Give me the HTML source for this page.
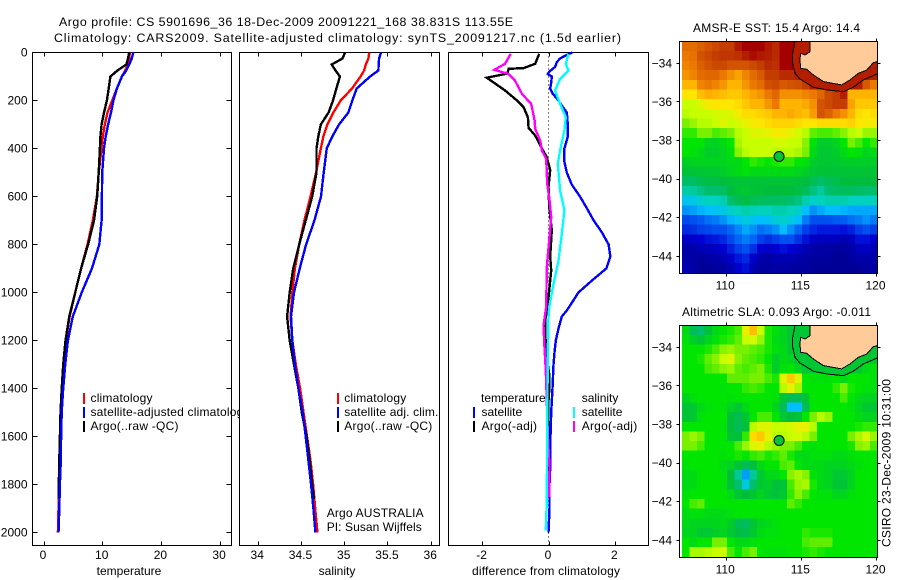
<!DOCTYPE html>
<html>
<head>
<meta charset="utf-8">
<title>Argo profile</title>
<style>
html,body{margin:0;padding:0;background:#fff;width:900px;height:580px;overflow:hidden}
svg{display:block}
text{font-family:"Liberation Sans",sans-serif;font-size:12px;fill:#000}
</style>
</head>
<body>
<svg id="chart" xmlns="http://www.w3.org/2000/svg" width="900" height="580" viewBox="0 0 900 580">
  <rect x="0" y="0" width="900" height="580" fill="#fff"/>
  <text x="59" y="26" textLength="454" lengthAdjust="spacing" style="font-size:12.4px">Argo profile: CS 5901696_36 18-Dec-2009 20091221_168 38.831S 113.55E</text>
  <text x="54" y="42" textLength="567" lengthAdjust="spacing" style="font-size:12.4px">Climatology: CARS2009. Satellite-adjusted climatology: synTS_20091217.nc (1.5d earlier)</text>

  <g id="p1"></g>
  <g id="p1legend">
    <rect x="83" y="393" width="2" height="11" fill="#f00"/>
    <rect x="83" y="407" width="2" height="11" fill="#00f"/>
    <rect x="83" y="421" width="2" height="11" fill="#000"/>
    <text x="90.5" y="402" textLength="62" lengthAdjust="spacing">climatology</text>
    <text x="90.5" y="416" textLength="159" lengthAdjust="spacing">satellite-adjusted climatology</text>
    <text x="90.5" y="430" textLength="88" lengthAdjust="spacing">Argo(..raw -QC)</text>
  </g>

  <g id="p2"></g>
  <g id="p2legend">
    <rect x="337" y="393" width="2" height="11" fill="#f00"/>
    <rect x="337" y="407" width="2" height="11" fill="#00f"/>
    <rect x="337" y="421" width="2" height="11" fill="#000"/>
    <text x="344.3" y="402" textLength="62" lengthAdjust="spacing">climatology</text>
    <text x="344.3" y="416" textLength="94" lengthAdjust="spacing">satellite adj. clim.</text>
    <text x="344.3" y="430" textLength="88" lengthAdjust="spacing">Argo(..raw -QC)</text>
    <text x="326.7" y="517" textLength="97" lengthAdjust="spacing">Argo AUSTRALIA</text>
    <text x="326.7" y="531" textLength="95" lengthAdjust="spacing">PI: Susan Wijffels</text>
  </g>

  <g id="p3"></g>
  <g id="p3legend">
    <text x="481" y="402">temperature</text>
    <rect x="473" y="407" width="2" height="11" fill="#00f"/>
    <rect x="473" y="421" width="2" height="11" fill="#000"/>
    <text x="481.5" y="416">satellite</text>
    <text x="481.5" y="430" textLength="55.5" lengthAdjust="spacing">Argo(-adj)</text>
    <text x="581.7" y="402">salinity</text>
    <rect x="573" y="407" width="2" height="11" fill="#0ff"/>
    <rect x="573" y="421" width="2" height="11" fill="#f0f"/>
    <text x="581.7" y="416">satellite</text>
    <text x="581.7" y="430" textLength="55.5" lengthAdjust="spacing">Argo(-adj)</text>
  </g>

  <text x="693" y="32" textLength="167" lengthAdjust="spacing">AMSR-E SST: 15.4  Argo: 14.4</text>
  <g id="m1"></g>
  <text x="682" y="316" textLength="189" lengthAdjust="spacing">Altimetric SLA: 0.093 Argo: -0.011</text>
  <g id="m2"></g>
  <text transform="translate(890.5,547) rotate(-90)" textLength="168" lengthAdjust="spacing">CSIRO 23-Dec-2009 10:31:00</text>
</svg>
<script>
// ---- profile data (depth in dbar) ----
const depthTicks = [0,200,400,600,800,1000,1200,1400,1600,1800,2000];
const profileDepths = [0,25,50,75,100,150,200,250,300,350,400,500,600,700,800,900,1000,1100,1200,1300,1400,1500,1600,1700,1800,1900,2000];
const argoDepths = [0,25,50,75,100,150,200,250,300,350,400,500,600,700,800,900,1000,1100,1200,1300,1400,1500,1600,1700,1800,1860];

const tempTicks = [0,10,20,30];
const tempClimatology = [14.7,14.6,14.4,13.9,13.35,12.5,11.7,10.9,10.45,10.1,9.9,9.4,9.1,8.4,7.5,6.4,5.4,4.45,3.8,3.4,3.15,2.95,2.85,2.75,2.65,2.55,2.45];
const tempSatellite = [15.3,15.05,14.6,14.1,13.35,12.5,11.9,11.5,11,10.6,10.3,10,9.95,9.9,9.5,8.25,6.5,5,4.15,3.7,3.35,3.1,3,2.95,2.8,2.7,2.55];
const tempArgo = [14.6,14.4,14.1,12.6,11.4,11.1,10.8,10.3,9.9,9.7,9.6,9.4,9.15,8.6,7.6,6.4,5.4,4.4,3.75,3.35,3.1,2.9,2.8,2.7,2.6,2.55];

const salTicks = [34,34.5,35,35.5,36];
const salClimatology = [35.29,35.28,35.25,35.23,35.19,35.09,34.96,34.875,34.805,34.76,34.73,34.675,34.61,34.54,34.48,34.43,34.40,34.38,34.40,34.44,34.49,34.53,34.57,34.61,34.64,34.665,34.69];
const salSatellite = [35.426,35.403,35.399,35.395,35.299,35.145,35.094,35.048,34.94,34.863,34.798,34.763,34.732,34.655,34.559,34.486,34.42,34.385,34.40,34.43,34.47,34.52,34.555,34.586,34.617,34.644,34.667];
const salArgo = [35.01,34.98,34.855,34.90,34.95,34.91,34.87,34.82,34.73,34.70,34.68,34.68,34.63,34.555,34.48,34.41,34.37,34.34,34.37,34.42,34.47,34.51,34.565,34.60,34.63,34.65];

const diffTicks = [-2,0,2];
const diffTempSatDepths = [0,10,25,40,60,80,90,100,125,150,170,200,225,250,300,350,400,450,500,550,600,650,700,750,800,850,900,950,1000,1033,1075,1100,1150,1200,1250,1300,1400,1500,1600,1700,1800,1900,2000];
const diffTempSat = [0.72,0.55,0.35,0.25,0.2,0.02,-0.02,0.1,0.08,0.05,0.12,0.3,0.42,0.55,0.58,0.58,0.48,0.47,0.55,0.70,0.95,1.16,1.36,1.61,1.81,1.86,1.74,1.31,0.90,0.75,0.55,0.40,0.3,0.22,0.18,0.15,0.12,0.08,0.06,0.06,0.03,0.03,0];
const diffTempArgoDepths = [6,47,65,68,88,105,158,200,228,270,314,346,400,436,490,560,644,740,850,908,1020,1075,1117,1172,1270,1340,1408,1450,1850];
const diffTempArgo = [-0.28,-0.40,-0.75,-1.2,-1.24,-1.86,-1.31,-0.95,-0.75,-0.62,-0.60,-0.40,-0.20,-0.05,0.05,0,0.02,0.10,0.05,0.08,0,-0.05,-0.10,-0.10,-0.05,0.02,0.02,0,0];
const diffSalSatDepths = [6,47,75,110,158,214,269,325,408,464,575,658,756,867,964,1061,1103,1242,1589,1867,1992];
const diffSalSat = [0.60,0.52,0.60,0.35,0.20,0.35,0.52,0.48,0.35,0.28,0.35,0.48,0.40,0.30,0.15,0.02,0,-0.02,-0.04,-0.05,-0.08];
const diffSalArgoDepths = [6,47,72,89,117,172,214,283,318,367,408,443,547,603,686,783,894,1061,1138,1228,1325,1450,1589,1728,1853];
const diffSalArgo = [-1.14,-1.31,-1.63,-1.21,-1.01,-0.80,-0.52,-0.42,-0.40,-0.25,-0.20,-0.07,-0.04,0.02,0.08,0.02,-0.05,-0.07,-0.15,-0.12,-0.08,-0.05,-0.02,0.03,0.02];

// ---- map data ----
const lonTicks = [110,115,120];
const latTicks = [-34,-36,-38,-40,-42,-44];
const floatLon = 113.55;
const floatLat = -38.83;
const argoSst = 14.4;
const argoSla = -0.011;
const shelfSst = 19.5;
const shelfSla = -0.01;
const coastLon = [115.61,115.61,115.28,114.99,114.94,114.99,115.39,115.83,116.50,117.38,117.72,118.27,118.82,119.38,119.82,120.09];
const coastLat = [-32.86,-33.40,-33.57,-33.48,-33.83,-34.26,-34.31,-34.60,-34.95,-35.07,-35.12,-34.86,-34.52,-34.35,-33.97,-33.91];
const shelfLon = [114.61,114.46,114.46,114.61,114.94,115.83,116.72,117.83,118.49,119.16,120.09];
const shelfLat = [-32.86,-33.48,-34,-34.52,-34.81,-35.24,-35.38,-35.47,-35.24,-34.86,-34.55];

const sstGrid = [
[18.2,18.2,18.4,18.6,18.8,19,19,19.6,20,20,20,19.6,19.3,20,20,19.5,19.5,19,19,19,19,19,19,19,19,19],
[18,18.1,18.6,18.8,19,19.1,19.1,19.2,19.5,19.8,19.6,19.5,19.3,20,20,19.5,19.5,19,19,19,19,19,19,19,19,19],
[17.8,18,18.4,18.6,18.8,18.8,18.6,18.6,18.6,18.8,19,19.3,19.2,20,20,19.8,19.5,19,19,19,19,19,19,19,19.5,19.8],
[17.5,17.8,18.2,18.3,18.3,18,17.6,17.3,17.8,18.2,18.5,19,19,19.3,19.3,19.5,19.5,19,19,19,19,19,19,19.5,19.5,19.5],
[17,17,17.8,18,17.8,17.5,17,17,17.5,18,18.2,18.7,18.8,18.5,18.6,18.7,19,19.5,19.5,19.5,19.5,19.5,19.5,19.5,18.5,18],
[16.5,16.5,16.9,17.1,17,16.9,16.8,16.8,17,17.3,17.5,18,18.3,17.6,17.6,17.6,17.8,18,18.3,18.8,19,19.5,17,17,17,17],
[16,16,16.2,16.4,16.5,16.5,16.5,16.6,16.8,17,17,17.5,18,17,17,17,17.2,17.6,18.6,18.8,19,19,17.3,16.8,16.8,16.8],
[15.9,16,16,16,16.1,16.1,16.2,16.4,16.6,16.6,16.7,16.8,17,17,17.2,17,16.9,17.4,18.6,18.4,18,17.6,17,16.6,16.5,16.6],
[15.5,15.7,15.9,15.9,16,16.2,16,16.1,16.3,16.4,16.5,16.6,16.7,16.7,16.7,16.6,16.5,16.5,16.6,16.6,16.6,16.6,16.7,16.5,16.4,16.4],
[15.2,15.2,15.5,15.5,15.3,15.4,15.5,15.9,16,16.2,16.2,16.3,16.4,16.4,16.3,16.1,15.9,15.4,15.3,15.3,15.4,15.6,15.9,16,15.7,15.7],
[15,15,15,14.7,14.7,14.8,15,15.8,16,16,16,16,16.1,16.1,16,16,15.6,14.9,14.6,14.6,14.7,15,15.5,15.3,15,15.2],
[15,14.9,14.8,14.6,14.6,14.7,14.9,15.6,15.9,16,16,16,15.9,15.9,15.9,15.8,15.5,14.8,14.5,14.5,14.6,14.8,15,14.9,14.7,14.8],
[14.6,14.7,14.7,14.7,14.7,14.7,14.8,14.8,15,15.2,15.1,15,15.1,15.2,15.2,15,14.9,14.6,14.5,14.5,14.5,14.6,14.6,14.6,14.6,14.6],
[14.2,14.3,14.4,14.5,14.5,14.6,14.7,14.8,14.9,14.8,14.8,14.8,14.8,14.8,14.8,14.7,14.6,14.4,14.3,14.2,14.3,14.3,14.3,14.3,14.3,14.3],
[13.2,13.2,13.6,13.8,13.8,14,14.2,14.3,14.3,14.3,14.3,14.3,14.3,14.3,14.3,14.2,14,13.5,13.2,13.5,13.7,14,14,14,14,14],
[12.3,12.4,12.7,13,13,13.2,14,14.3,14.5,14.3,14.2,14,14,14,14,13.8,13.5,12.8,12.4,13,13.3,13.4,13.4,13.2,13.1,13.1],
[11.3,11.4,11.8,12,12,12.2,13,13.5,13.8,13.5,13.4,13.3,13.3,13.2,13,12.8,12.2,11.8,12,12.2,12.2,12.2,12,11.9,12,12],
[10.6,10.7,10.9,11,11.2,11.4,11.8,12,12.2,12.1,12,12,12.2,12.2,12,11.8,11,10.6,10.8,11,11,10.9,10.8,10.8,10.8,10.8],
[9.9,10,10.1,10.3,10.4,10.6,10.9,11.2,11.5,11.2,11,11.2,11.6,11.8,11.5,11,10.4,10,10,10,10.1,10.1,10.3,10.4,10.6,10.4],
[9.5,9.6,9.8,9.9,10,10,10.2,10.5,10.8,10.6,10.3,10.4,10.6,11,10.6,10.2,9.8,9.5,9.3,9.3,9.3,9.2,9.4,9.8,10,9.8],
[8.8,8.9,9,9.2,9.3,9.5,9.9,10.2,10.4,10.2,9.8,9.6,9.8,10,10,9.6,9.2,8.8,8.7,8.7,8.7,8.5,8.7,9.2,9.2,9],
[8.4,8.4,8.6,8.6,8.8,9,9.4,9.8,10,9.6,9,8.8,9,9.2,9,8.8,8.5,8.4,8.3,8.3,8.2,8.2,8.4,8.7,8.8,8.6],
[8.3,8.3,8.2,8.3,8.4,8.5,8.9,9.3,9.5,8.9,8.4,8.3,8.5,8.5,8.5,8.4,8.3,8.2,8.2,8.2,8.1,8.1,8.2,8.4,8.4,8.4],
[8.5,8.3,8.1,8.1,8.2,8.2,8.5,8.9,9.2,8.5,8.2,8.2,8.3,8.3,8.2,8.2,8.2,8.1,8.1,8.1,8.1,8.1,8.1,8.1,8.2,8.3]
];

const slaGrid = [
[.03,-.1,-.15,-.03,.03,.05,.06,.08,.18,.24,.15,.06,.04,.02,0,0,0,0,0,0,0,0,0,0,0,0],
[.04,.01,-.02,.02,.04,.06,.07,.09,.15,.16,.12,.06,.03,.02,0,0,0,0,0,0,0,0,0,0,0,0],
[.05,.05,.05,.06,.08,.11,.12,.1,.1,.09,.08,.06,.04,.03,0,0,0,0,0,0,0,0,0,0,0,0],
[.05,.05,.06,.09,.11,.15,.17,.11,.09,.08,.07,.05,.01,.03,.02,0,0,0,0,0,0,0,0,0,0,0],
[.05,.05,.05,.08,.09,.11,.12,.09,.08,.09,.1,.06,.01,.04,.05,.02,0,0,0,0,0,0,0,0,.03,.04],
[.05,.05,.05,.05,.05,.05,.09,.09,.09,.1,.1,.08,.06,.17,.23,.17,.05,.04,.04,.04,.05,.03,.05,.05,.05,.04],
[.05,.05,.05,.05,.05,.04,.05,.05,.07,.08,.07,.05,.05,.14,.18,.13,.05,.05,.05,.05,.07,.1,.06,.05,.04,.04],
[.02,.04,.05,.05,.05,.05,.04,.05,.05,.05,.05,.05,.04,-.02,-.1,-.1,-.02,.05,.05,.05,.05,.08,.05,.03,.02,.02],
[-.02,0,.03,.04,.05,.04,.02,0,.03,.05,.05,.05,.02,-.1,-.35,-.35,-.1,.05,.05,.05,.05,.05,.04,.02,0,0],
[-.02,0,.04,.05,.05,.05,-.04,-.08,-.02,.05,.08,.08,.05,0,-.05,-.03,.05,.1,.14,.12,.05,.05,.05,.03,.02,.02],
[.05,.05,.05,.05,.05,.04,-.05,-.1,-.03,.14,.17,.17,.15,.15,.16,.18,.18,.14,.05,.05,.05,.05,.05,.06,.07,.07],
[.1,.12,.1,.05,.05,.05,-.02,-.04,.07,.21,.23,.18,.14,.14,.15,.16,.14,.1,.05,.05,.05,.05,.1,.13,.16,.12],
[.1,.1,.08,.05,.05,.05,.05,.08,.12,.17,.18,.14,.12,.1,.1,.08,.05,.04,.05,.05,.05,.05,.06,.11,.12,.08],
[.05,.05,.05,.05,.05,.04,.05,.06,.05,.07,.08,.06,.07,.09,.06,.03,.03,.04,.04,.04,.03,.03,.04,.05,.05,.05],
[.04,.05,.05,.05,.05,.03,.02,-.02,-.1,-.06,.03,.05,.05,.08,.09,.05,.03,.03,.03,.02,.02,.02,.03,.04,.05,.05],
[.03,.03,.05,.05,.05,.04,-.05,-.2,-.38,-.2,0,.03,.03,.05,.11,.13,.11,.04,.03,.02,0,0,.02,.05,.05,.05],
[.03,.03,.05,.05,.05,.04,-.03,-.15,-.3,-.15,0,.01,-.03,-.02,.08,.12,.13,.06,.03,.02,-.01,-.02,.02,.05,.05,.05],
[.04,.05,.05,.05,.05,.05,.03,-.01,-.05,-.01,.02,0,-.03,0,.07,.11,.08,.05,.04,.04,.02,.02,.04,.05,.05,.05],
[.05,.08,.09,.05,.05,.05,.05,.05,.05,.05,.05,.05,.05,.05,.09,.07,.05,.05,.05,.05,.05,.05,.05,.05,.05,.05],
[.03,.04,.04,.03,.03,.03,.04,.05,.05,.05,.05,.05,.05,.05,.05,.05,.05,.05,.05,.05,.05,.05,.05,.05,.05,.05],
[.03,.02,.02,.02,.02,.03,.01,-.1,-.12,-.02,.02,.03,.04,.05,.05,.05,.05,.05,.05,.05,.05,.05,.05,.05,.05,.05],
[.02,.02,0,0,.01,.02,0,-.06,-.08,0,.03,.04,.04,.05,.05,.05,.07,.06,.06,.06,.05,.05,.05,.05,.05,.05],
[.05,.03,.05,.05,.1,.1,.05,.03,.03,.04,.05,.05,.05,.05,.05,.05,.08,.09,.09,.09,.05,.05,.05,.05,.05,.05],
[.05,.13,.13,.14,.15,.16,.08,.05,.08,.1,.05,.04,.04,.04,.05,.05,.06,.07,.06,.05,.05,.05,.05,.05,.05,.05]
];

// ---- colour scale: value (degC) -> rgb ----
const scaleValues = [8,9,10,11,12,13,14,14.5,15,15.5,16,16.5,17,18,19,20];
const scaleReds   = [0,0,0,0,0,0,0,0,0,120,200,255,255,235,195,165];
const scaleGreens = [0,0,80,190,210,190,190,200,230,240,255,230,180,120,60,0];
const scaleBlues  = [145,210,240,255,190,110,60,50,0,0,0,0,0,0,0,0];

const NS = 'http://www.w3.org/2000/svg';

function mk(parent, tag, attrs) {
  const el = document.createElementNS(NS, tag);
  for (const k in attrs) el.setAttribute(k, attrs[k]);
  parent.appendChild(el);
  return el;
}
function sstColor(v) {
  const n = scaleValues.length;
  if (v <= scaleValues[0]) return 'rgb(' + scaleReds[0] + ',' + scaleGreens[0] + ',' + scaleBlues[0] + ')';
  if (v >= scaleValues[n-1]) return 'rgb(' + scaleReds[n-1] + ',' + scaleGreens[n-1] + ',' + scaleBlues[n-1] + ')';
  let i = 0;
  while (v > scaleValues[i+1]) i++;
  const t = (v - scaleValues[i]) / (scaleValues[i+1] - scaleValues[i]);
  const c = (a) => Math.round(a[i] + (a[i+1] - a[i]) * t);
  return 'rgb(' + c(scaleReds) + ',' + c(scaleGreens) + ',' + c(scaleBlues) + ')';
}
function slaColor(v) { return sstColor(14.5 + 10 * v); }

// ---- axis functions ----
const depthY = (d) => 52.5 + 0.24 * d;
const tempX = (v) => 43.5 + 5.87 * v;
const salX = (v) => 257.7 + 86.5 * (v - 34);
const diffX = (v) => 548.5 + 33.2 * v;
const lonX = (v) => 725.7 + 15.03 * (v - 110);

function addProfile(g, xScale, values, depths, color, name) {
  const n = Math.min(values.length, depths.length);
  const pts = [];
  for (let i = 0; i < n; i++) pts.push(xScale(values[i]).toFixed(1) + ',' + depthY(depths[i]).toFixed(1));
  const line = mk(g, 'polyline', {points: pts.join(' '), fill: 'none', stroke: color, 'stroke-width': 2.4, 'shape-rendering': 'crispEdges'});
  
  
}

function addPanel(g, left, right, xScale, xTicks, xLabel, labelCenter, showDepth, labelWidth) {
  const top = 52.5, bottom = 545.5;
  const bg = mk(g, 'rect', {x: left, y: top, width: right - left, height: bottom - top, fill: '#fff', stroke: '#000', 'stroke-width': 1});
  
  
  xTicks.forEach((t) => {
    const x = Math.round(xScale(t)) + 0.5;
    const tickTop = mk(g, 'path', {d: 'M' + x + ' ' + top + 'V' + (top + 4) + 'M' + x + ' ' + bottom + 'V' + (bottom - 4), stroke: '#000', 'stroke-width': 1, fill: 'none'});
    
    
    const label = mk(g, 'text', {x: xScale(t) - 0.5, y: 559, 'text-anchor': 'middle'});
    
    
    label.textContent = String(t);
  });
  const title = mk(g, 'text', {x: labelCenter, y: 575, 'text-anchor': 'middle'});
  if (labelWidth) title.setAttribute('textLength', labelWidth);
  
  
  title.textContent = xLabel;
  if (showDepth) {
    depthTicks.forEach((d) => {
      const y = Math.round(depthY(d) - 0.5) + 0.5;
      const tick = mk(g, 'path', {d: 'M' + left + ' ' + y + 'H' + (left + 5) + 'M' + right + ' ' + y + 'H' + (right - 5), stroke: '#000', 'stroke-width': 1, fill: 'none'});
      
      
      const label = mk(g, 'text', {x: 27.5, y: depthY(d) + 4, 'text-anchor': 'end'});
      
      
      label.textContent = String(d);
    });
  }
}

function addMap(g, top, grid, colorFn, shelfValue, argoValue, gridName) {
  const left = 679.5, right = 877.5, bottom = top + 232;
  const latY = (v) => top + 21.8 + 19.3 * (-34 - v);
  const lon0 = 107.09, lat0 = -32.86, step = 0.5;
  const bg = mk(g, 'rect', {x: left, y: top, width: right - left, height: bottom - top, fill: '#fff'});
  
  
  grid.forEach((row, i) => {
    row.forEach((v, j) => {
      const x0 = lonX(lon0 + j * step), x1 = Math.min(lonX(lon0 + (j + 1) * step), right);
      const y0 = latY(lat0 - i * step), y1 = Math.min(latY(lat0 - (i + 1) * step), bottom);
      const cell = mk(g, 'rect', {x: x0.toFixed(1), y: y0.toFixed(1), width: (x1 - x0 + 0.4).toFixed(1), height: (y1 - y0 + 0.4).toFixed(1), fill: colorFn(v), 'shape-rendering': 'crispEdges'});
      
      
    });
  });
  const toPts = (lons, lats) => lons.map((v, i) => lonX(v).toFixed(1) + ',' + latY(lats[i]).toFixed(1));
  const coastPts = toPts(coastLon, coastLat);
  const shelfPts = toPts(shelfLon, shelfLat);
  const corner = lonX(120.09).toFixed(1) + ',' + latY(-32.86).toFixed(1);
  const band = mk(g, 'polygon', {points: shelfPts.concat(coastPts.slice().reverse()).join(' '), fill: colorFn(shelfValue), stroke: 'none'});
  
  
  const land = mk(g, 'polygon', {points: coastPts.concat([corner]).join(' '), fill: '#ffcc99', stroke: 'none'});
  
  
  const coast = mk(g, 'polyline', {points: coastPts.join(' '), fill: 'none', stroke: '#000', 'stroke-width': 1, 'shape-rendering': 'crispEdges'});
  
  
  const shelf = mk(g, 'polyline', {points: shelfPts.join(' '), fill: 'none', stroke: '#000', 'stroke-width': 1, 'shape-rendering': 'crispEdges'});
  
  
  const frame = mk(g, 'rect', {x: left, y: top, width: right - left, height: bottom - top, fill: 'none', stroke: '#000', 'stroke-width': 1});
  
  
  lonTicks.forEach((t) => {
    const x = Math.round(lonX(t)) + 0.5;
    const tick = mk(g, 'path', {d: 'M' + x + ' ' + top + 'v-3M' + x + ' ' + bottom + 'v3', stroke: '#000', 'stroke-width': 1, fill: 'none'});
    
    
    const label = mk(g, 'text', {x: lonX(t) - 0.5, y: bottom + 16, 'text-anchor': 'middle'});
    
    
    label.textContent = String(t);
  });
  latTicks.forEach((t) => {
    const y = Math.round(latY(t) - 0.5) + 0.5;
    const tick = mk(g, 'path', {d: 'M' + left + ' ' + y + 'h-3M' + right + ' ' + y + 'h3', stroke: '#000', 'stroke-width': 1, fill: 'none'});
    
    
    const label = mk(g, 'text', {x: 672, y: latY(t) + 4, 'text-anchor': 'end'});
    
    
    label.textContent = '\u2212' + Math.abs(t);
  });
  const dot = mk(g, 'circle', {cx: lonX(floatLon).toFixed(1), cy: latY(floatLat).toFixed(1), r: 5, fill: colorFn(argoValue), stroke: '#000', 'stroke-width': 1});
  
  
}

// ---- temperature panel ----
const p1 = document.getElementById('p1');
addPanel(p1, 32.5, 231.5, tempX, tempTicks, 'temperature', 129, true);
addProfile(p1, tempX, tempClimatology, profileDepths, '#f00', 'temperature-climatology-line');
addProfile(p1, tempX, tempArgo, argoDepths, '#000', 'temperature-argo-line');
addProfile(p1, tempX, tempSatellite, profileDepths, '#00f', 'temperature-satellite-line');

// ---- salinity panel ----
const p2 = document.getElementById('p2');
addPanel(p2, 239.5, 439.5, salX, salTicks, 'salinity', 337, false);
addProfile(p2, salX, salClimatology, profileDepths, '#f00', 'salinity-climatology-line');
addProfile(p2, salX, salArgo, argoDepths, '#000', 'salinity-argo-line');
addProfile(p2, salX, salSatellite, profileDepths, '#00f', 'salinity-satellite-line');

// ---- difference panel ----
const p3 = document.getElementById('p3');
addPanel(p3, 448.5, 648.5, diffX, diffTicks, 'difference from climatology', 546, false, 148);
const zeroLine = mk(p3, 'line', {x1: 548.5, x2: 548.5, y1: 52.5, y2: 545.5, stroke: '#000', 'stroke-width': 1, 'stroke-dasharray': '1 3'});


addProfile(p3, diffX, diffTempSat, diffTempSatDepths, '#00f', 'difference-temp-satellite-line');
addProfile(p3, diffX, diffTempArgo, diffTempArgoDepths, '#000', 'difference-temp-argo-line');
addProfile(p3, diffX, diffSalArgo, diffSalArgoDepths, '#f0f', 'difference-sal-argo-line');
addProfile(p3, diffX, diffSalSat, diffSalSatDepths, '#0ff', 'difference-sal-satellite-line');

// ---- maps ----
addMap(document.getElementById('m1'), 41.5, sstGrid, sstColor, shelfSst, argoSst, 'sst');
addMap(document.getElementById('m2'), 325.5, slaGrid, slaColor, shelfSla, argoSla, 'sla');

// Legend overflow of the first panel is hidden by the second panel's white frame.
const svg = document.getElementById('chart');
svg.insertBefore(document.getElementById('p1legend'), document.getElementById('p2'));
</script>
</body>
</html>
